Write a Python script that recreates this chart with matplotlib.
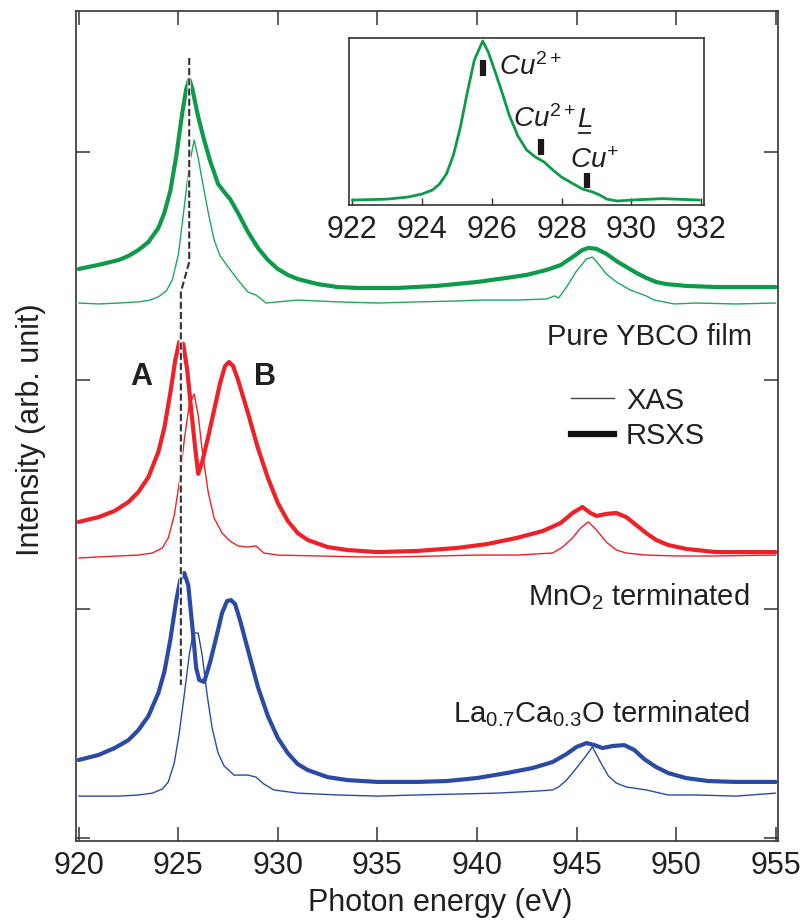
import matplotlib
matplotlib.use("Agg")
import matplotlib.pyplot as plt
from matplotlib.lines import Line2D

plt.rcParams["font.family"] = ["Liberation Sans", "DejaVu Sans"]
plt.rcParams["mathtext.fontset"] = "custom"
plt.rcParams["mathtext.rm"] = "Liberation Sans"
plt.rcParams["mathtext.it"] = "Liberation Sans:italic"
plt.rcParams["mathtext.bf"] = "Liberation Sans:bold"

# ---------------- data (stacked Cu L3-edge spectra, arb. units) ----------------
ybco_rsxs_e = [920.0, 921.0, 922.0, 922.5, 923.0, 923.5, 924.0, 924.3, 924.6, 924.9,
               925.2, 925.4, 925.55, 925.7, 926.0, 926.3, 926.6, 927.0, 927.3, 927.6,
               928.0, 928.5, 929.0, 929.5, 930.0, 930.5, 931.0, 932.0, 933.0, 934.0,
               936.0, 938.0, 940.0, 941.5, 942.5, 943.5, 944.2, 944.8, 945.3, 945.6,
               946.0, 946.5, 947.0, 947.5, 948.0, 948.5, 949.0, 949.5, 950.5, 952.0,
               955.0]
ybco_rsxs_i = [2.487, 2.505, 2.526, 2.544, 2.570, 2.605, 2.666, 2.732, 2.828, 2.981,
               3.169, 3.274, 3.318, 3.278, 3.152, 3.051, 2.959, 2.859, 2.824, 2.793,
               2.732, 2.649, 2.579, 2.526, 2.487, 2.461, 2.443, 2.421, 2.408, 2.404,
               2.404, 2.413, 2.430, 2.448, 2.461, 2.483, 2.504, 2.539, 2.570, 2.579,
               2.575, 2.553, 2.522, 2.496, 2.470, 2.448, 2.430, 2.421, 2.413, 2.408,
               2.408]

ybco_xas_e = [920.0, 921.0, 922.0, 923.0, 923.6, 924.0, 924.4, 924.7, 925.0, 925.3,
              925.55, 925.8, 926.0, 926.2, 926.5, 926.8, 927.1, 927.5, 928.0, 928.5,
              928.9, 929.1, 929.4, 930.0, 931.0, 932.0, 933.0, 935.0, 937.0, 939.0,
              940.2, 942.0, 943.5, 943.9, 944.1, 944.5, 945.0, 945.5, 945.8, 946.1,
              946.5, 947.0, 947.7, 948.5, 948.9, 949.9, 951.0, 953.0, 955.0]
ybco_xas_i = [2.338, 2.334, 2.338, 2.343, 2.351, 2.365, 2.391, 2.439, 2.548, 2.758,
              2.942, 3.051, 2.972, 2.876, 2.736, 2.614, 2.544, 2.496, 2.439, 2.386,
              2.373, 2.360, 2.338, 2.343, 2.351, 2.347, 2.343, 2.338, 2.343, 2.347,
              2.351, 2.351, 2.356, 2.369, 2.360, 2.408, 2.478, 2.531, 2.539, 2.509,
              2.465, 2.430, 2.395, 2.369, 2.351, 2.334, 2.338, 2.334, 2.338]

mno2_rsxs_e = [920.0, 921.0, 921.8, 922.5, 923.0, 923.5, 924.0, 924.3, 924.6, 924.85,
               925.05, 925.25, 925.45, 925.65, 925.85, 926.0, 926.2, 926.5, 926.8, 927.1,
               927.35, 927.55, 927.75, 928.0, 928.5, 929.0, 929.5, 930.0, 930.5, 931.0,
               931.5, 932.5, 933.5, 935.0, 937.0, 939.0, 940.5, 942.0, 943.3, 944.2,
               944.8, 945.3, 945.7, 946.0, 946.5, 947.0, 947.5, 948.0, 948.5, 949.0,
               949.6, 950.5, 952.0, 955.0]
mno2_rsxs_i = [1.381, 1.402, 1.429, 1.468, 1.512, 1.577, 1.687, 1.792, 1.945, 2.089,
               2.168, 2.159, 2.045, 1.870, 1.704, 1.591, 1.643, 1.752, 1.870, 1.988,
               2.063, 2.080, 2.063, 2.002, 1.857, 1.704, 1.573, 1.464, 1.385, 1.332,
               1.302, 1.271, 1.258, 1.249, 1.254, 1.267, 1.284, 1.311, 1.341, 1.376,
               1.420, 1.446, 1.420, 1.407, 1.416, 1.420, 1.402, 1.367, 1.332, 1.302,
               1.280, 1.263, 1.249, 1.249]

mno2_xas_e = [920.0, 921.0, 922.0, 923.0, 923.7, 924.2, 924.5, 924.8, 925.05, 925.3,
              925.55, 925.8, 926.0, 926.2, 926.5, 926.8, 927.2, 927.6, 928.0, 928.5,
              928.9, 929.3, 930.0, 932.0, 934.0, 936.0, 938.0, 940.0, 942.0, 943.8,
              944.3, 944.8, 945.2, 945.6, 946.0, 946.5, 947.0, 947.5, 948.5, 950.0,
              952.0, 955.0]
mno2_xas_i = [1.223, 1.228, 1.232, 1.236, 1.245, 1.267, 1.311, 1.411, 1.551, 1.739,
              1.892, 1.940, 1.848, 1.695, 1.512, 1.398, 1.332, 1.297, 1.276, 1.271,
              1.276, 1.245, 1.236, 1.232, 1.228, 1.228, 1.232, 1.236, 1.236, 1.245,
              1.271, 1.311, 1.354, 1.381, 1.346, 1.293, 1.258, 1.245, 1.236, 1.232,
              1.232, 1.236]

lco_rsxs_e = [920.0, 921.0, 921.8, 922.5, 923.0, 923.5, 924.0, 924.3, 924.6, 924.9,
              925.1, 925.3, 925.5, 925.7, 925.9, 926.05, 926.3, 926.6, 926.9, 927.2,
              927.45, 927.65, 927.85, 928.1, 928.5, 929.0, 929.5, 930.0, 930.5, 931.0,
              931.5, 932.5, 933.5, 935.0, 937.0, 938.5, 940.0, 941.5, 942.8, 943.8,
              944.5, 945.0, 945.5, 945.9, 946.3, 946.8, 947.4, 947.9, 948.4, 949.0,
              949.6, 950.5, 951.6, 953.0, 955.0]
lco_rsxs_i = [0.340, 0.362, 0.392, 0.427, 0.471, 0.532, 0.633, 0.725, 0.865, 1.039,
              1.127, 1.158, 1.105, 0.930, 0.742, 0.690, 0.681, 0.768, 0.873, 0.983,
              1.035, 1.039, 1.022, 0.952, 0.821, 0.659, 0.532, 0.436, 0.370, 0.322,
              0.296, 0.265, 0.252, 0.244, 0.244, 0.248, 0.261, 0.283, 0.305, 0.331,
              0.366, 0.397, 0.414, 0.405, 0.392, 0.401, 0.405, 0.384, 0.344, 0.309,
              0.283, 0.261, 0.248, 0.244, 0.244]

lco_xas_e = [920.0, 921.0, 922.0, 923.0, 923.7, 924.2, 924.5, 924.8, 925.05, 925.3,
             925.55, 925.75, 926.0, 926.2, 926.45, 926.7, 927.0, 927.3, 927.8, 928.5,
             928.9, 929.3, 929.8, 931.0, 933.0, 935.0, 937.0, 939.0, 941.0, 943.0,
             943.8, 944.1, 944.5, 945.0, 945.5, 945.8, 946.2, 946.6, 947.0, 947.5,
             948.5, 949.6, 951.0, 953.0, 955.0]
lco_xas_i = [0.182, 0.182, 0.182, 0.187, 0.195, 0.213, 0.244, 0.327, 0.458, 0.624,
             0.799, 0.895, 0.895, 0.799, 0.624, 0.480, 0.370, 0.314, 0.274, 0.274,
             0.265, 0.235, 0.209, 0.195, 0.187, 0.182, 0.187, 0.191, 0.195, 0.204,
             0.209, 0.222, 0.252, 0.305, 0.361, 0.397, 0.331, 0.270, 0.239, 0.222,
             0.209, 0.187, 0.187, 0.182, 0.195]

# peak-position guide
guide_e = [925.55, 925.55, 925.13, 925.13]
guide_i = [3.410, 2.518, 2.386, 0.668]

# inset: pure YBCO RSXS, normalised
inset_e = [922.0, 923.0, 923.6, 924.0, 924.3, 924.5, 924.7, 924.9, 925.1, 925.3,
           925.5, 925.74, 925.9, 926.1, 926.3, 926.5, 926.75, 927.0, 927.25, 927.5,
           927.75, 928.0, 928.3, 928.6, 928.9, 929.1, 929.3, 929.6, 930.0, 930.9,
           931.96]
inset_i = [0.0, 0.006, 0.019, 0.038, 0.063, 0.100, 0.163, 0.281, 0.456, 0.675,
           0.875, 0.994, 0.925, 0.800, 0.669, 0.531, 0.400, 0.313, 0.269, 0.238,
           0.188, 0.144, 0.106, 0.069, 0.050, 0.031, 0.006, -0.006, 0.0, 0.009,
           0.0]
valence_e = [925.74, 927.41, 928.72]
valence_lo = [0.775, 0.281, 0.075]
valence_hi = [0.875, 0.381, 0.171]

x_ticks = [920, 925, 930, 935, 940, 945, 950, 955]
inset_ticks = [922, 924, 926, 928, 930, 932]

GREEN = "#0e9a4b"
GREEN_T = "#1fa75a"
RED = "#ee2128"
BLUE = "#2b4aa6"
TXT = "#231f20"

fig = plt.figure(figsize=(8.03, 9.24), dpi=100)
ax = fig.add_axes([0.0943, 0.0898, 0.8746, 0.8983])

THICK = 3.0
THIN = 1.0
kw = dict(solid_joinstyle="round", solid_capstyle="round")
ax.plot(ybco_rsxs_e, ybco_rsxs_i, color=GREEN, lw=THICK, **kw)
ax.plot(ybco_xas_e, ybco_xas_i, color=GREEN_T, lw=THIN, **kw)
ax.plot(mno2_rsxs_e, mno2_rsxs_i, color=RED, lw=THICK, **kw)
ax.plot(mno2_xas_e, mno2_xas_i, color=RED, lw=THIN, **kw)
ax.plot(lco_rsxs_e, lco_rsxs_i, color=BLUE, lw=THICK, **kw)
ax.plot(lco_xas_e, lco_xas_i, color=BLUE, lw=THIN, **kw)

ax.plot(guide_e, guide_i, color="white", lw=2.4, zorder=5)
ax.plot(guide_e, guide_i, color="#333333", lw=1.5, dashes=(3.4, 1.5), zorder=6)

ax.set_xlim(919.85, 955.12)
ax.set_ylim(-0.0144, 3.615)
ax.set_xticks(x_ticks)
ax.set_yticks([0, 1, 2, 3])
ax.set_yticklabels([])
ax.tick_params(axis="both", direction="in", length=10, width=1.1, color="#333333",
               top=True, right=True, labelsize=22, labelcolor=TXT, pad=7)
for s in ax.spines.values():
    s.set_linewidth(1.2)
    s.set_color("#333333")

ax.set_xlabel("Photon energy (eV)", fontsize=22, color=TXT)
ax.xaxis.set_label_coords(0.519, -0.057)
ax.set_ylabel("Intensity (arb. unit)", fontsize=22, color=TXT)
ax.yaxis.set_label_coords(-0.043, 0.495)

ax.text(953.8, 2.155, "Pure YBCO film", ha="right", va="baseline", fontsize=21, color=TXT)
ax.text(953.7, 1.018, "MnO$_2$ terminated", ha="right", va="baseline", fontsize=21, color=TXT)
ax.text(953.7, 0.507, "La$_{0.7}$Ca$_{0.3}$O terminated", ha="right", va="baseline",
        fontsize=21, color=TXT)
ax.text(923.12, 1.980, "A", ha="center", va="baseline", fontsize=22, fontweight="bold", color=TXT)
ax.text(929.37, 1.980, "B", ha="center", va="baseline", fontsize=22, fontweight="bold", color=TXT)

handles = [Line2D([], [], color="#444444", lw=1.0),
           Line2D([], [], color="#111111", lw=4.5)]
ax.legend(handles, ["XAS", "RSXS"], loc="upper left", bbox_to_anchor=(0.7048, 0.5476),
          frameon=False, fontsize=21, handlelength=1.5, handletextpad=0.4,
          labelspacing=0.25, borderpad=0, borderaxespad=0, labelcolor=TXT)

# ---------------- inset ----------------
ins = fig.add_axes([0.4346, 0.7781, 0.4421, 0.1807])
ins.plot(inset_e, inset_i, color=GREEN, lw=2.0, **kw)
ins.vlines(valence_e, valence_lo, valence_hi, color="#1a1a1a", lw=4.5)
ins.set_xlim(921.905, 932.086)
ins.set_ylim(-0.031, 1.0125)
ins.set_xticks(inset_ticks)
ins.set_yticks([])
ins.tick_params(axis="x", direction="in", length=5, width=1.0, color="#333333",
                labelsize=22, labelcolor=TXT, pad=7)
for s in ins.spines.values():
    s.set_linewidth(1.2)
    s.set_color("#333333")

ins.text(926.21, 0.78, r"$\mathit{Cu}^{2+}$", ha="left", va="baseline", fontsize=20, color=TXT)
t1 = ins.text(926.61, 0.454, r"$\mathit{Cu}^{2+}$", ha="left", va="baseline", fontsize=20, color=TXT)
ins.text(928.24, 0.198, r"$\mathit{Cu}^{+}$", ha="left", va="baseline", fontsize=20, color=TXT)

# underlined ligand-hole symbol placed after the second label
fig.canvas.draw()
r = fig.canvas.get_renderer()
bb = t1.get_window_extent(r)
inv = ins.transData.inverted()
x_end = inv.transform((bb.x1, bb.y0))[0]
t2 = ins.text(x_end + 0.02, 0.454, r"$\mathit{L}$", ha="left", va="baseline", fontsize=20, color=TXT)
fig.canvas.draw()
bb2 = t2.get_window_extent(r)
(ux0, _), (ux1, _) = inv.transform([(bb2.x0 + 1, bb2.y0), (bb2.x1 - 1, bb2.y0)])
ins.plot([ux0, ux1], [0.418, 0.418], color=TXT, lw=1.3, solid_capstyle="butt")

fig.savefig("out.png", dpi=100)
